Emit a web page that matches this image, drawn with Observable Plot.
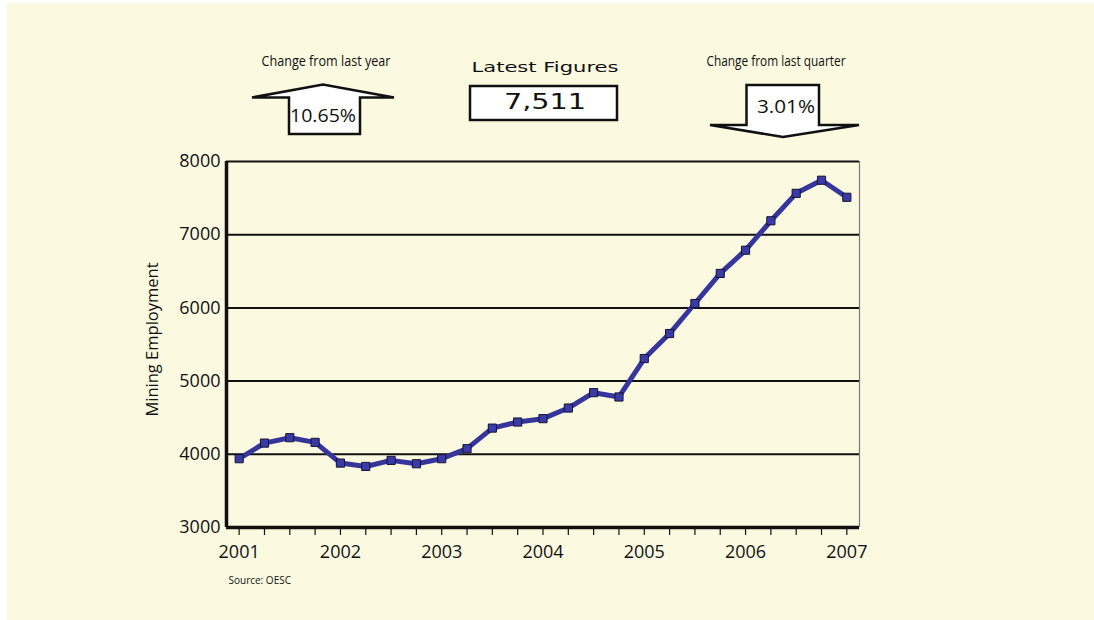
<!DOCTYPE html>
<html><head><meta charset="utf-8">
<script src="https://cdn.jsdelivr.net/npm/d3@7"></script>
<script src="https://cdn.jsdelivr.net/npm/@observablehq/plot@0.6"></script>
<style>
body{margin:0;background:#fff;}
#wrap{position:absolute;left:7px;top:3px;width:1087px;height:617px;background:#FCF9E1;overflow:hidden;}
#wrap svg{position:absolute;left:0;top:0;}
</style></head><body><div id="wrap"></div>
<script>
// Quarterly mining employment, 2001 Q1 – 2007 Q1 (decimal years)
const quarters = [2001.00, 2001.25, 2001.50, 2001.75, 2002.00, 2002.25, 2002.50, 2002.75,
                  2003.00, 2003.25, 2003.50, 2003.75, 2004.00, 2004.25, 2004.50, 2004.75,
                  2005.00, 2005.25, 2005.50, 2005.75, 2006.00, 2006.25, 2006.50, 2006.75, 2007.00];
const employment = [3940, 4153, 4227, 4163, 3880, 3834, 3917, 3871,
                    3940, 4077, 4358, 4441, 4487, 4632, 4842, 4783,
                    5308, 5650, 6060, 6471, 6788, 7190, 7565, 7744, 7511];
const yearTicks = [2001, 2002, 2003, 2004, 2005, 2006, 2007];
const yTicks = [3000, 4000, 5000, 6000, 7000, 8000];
const yLabel = "Mining Employment";
const source = "Source: OESC";
const latestTitle = "Latest Figures";
const latestValue = "7,511";
const yearTitle = "Change from last year";
const yearChange = "10.65%";
const quarterTitle = "Change from last quarter";
const quarterChange = "3.01%";

const data = quarters.map((q, i) => ({q, v: employment[i]}));
const xDomain = [quarters[0] - 0.125, quarters[quarters.length - 1] + 0.125];

const chart = Plot.plot({
  width: 1087, height: 617,
  marginLeft: 219, marginRight: 235, marginTop: 158, marginBottom: 93,
  style: {background: "transparent", fontFamily: "'Open Sans', sans-serif", fontSize: "16px", color: "#111"},
  x: {domain: xDomain, axis: null, label: null},
  y: {domain: [yTicks[0], yTicks[yTicks.length - 1]], axis: null, label: null},
  marks: [
    Plot.ruleY(yTicks.slice(1), {stroke: "#111", strokeWidth: 2}),
    Plot.ruleX([xDomain[1]], {stroke: "#777", strokeWidth: 1.2}),
    Plot.axisX(quarters, {tickSize: 8, tickFormat: () => "", stroke: "#111", strokeWidth: 1.2, label: null}),
    Plot.axisX(yearTicks, {tickSize: 0, tickPadding: 18, tickFormat: d => String(d), fontSize: 18, fill: "#111", label: null}),
    Plot.axisY(yTicks, {tickSize: 0, tickPadding: 6, tickFormat: d => String(d), fontSize: 18, fill: "#111", label: null}),
    Plot.ruleX([xDomain[0]], {stroke: "#111", strokeWidth: 3.5}),
    Plot.ruleY([yTicks[0]], {stroke: "#111", strokeWidth: 3.5}),
    Plot.line(data, {x: "q", y: "v", stroke: "#35359c", strokeWidth: 5}),
    Plot.dot(data, {x: "q", y: "v", symbol: "square", r: 4.6, fill: "#3b3ba8", stroke: "#151530", strokeWidth: 1}),
    Plot.text([yLabel], {frameAnchor: "left", textAnchor: "middle", rotate: -90, dx: -74, dy: -5, fontSize: 16.5, fill: "#111"}),
    Plot.text([source], {frameAnchor: "bottom-left", lineAnchor: "middle", textAnchor: "start", dx: 2, dy: 53,
      fontSize: 10, fill: "#111"})
  ]
});
document.getElementById("wrap").appendChild(chart);

// Header annotations
const svg = d3.select(chart);
const g = svg.append("g");
const sans = "'Open Sans', sans-serif";
const wide = "'DejaVu Sans', sans-serif";

function label(x, y, txt, size, family, len, weight) {
  const t = g.append("text").attr("x", x).attr("y", y).attr("text-anchor", "middle")
    .attr("dominant-baseline", "middle").attr("font-family", family).attr("font-size", size)
    .attr("fill", "#111").text(txt);
  if (weight) t.attr("font-weight", weight);
  if (len) t.attr("textLength", len).attr("lengthAdjust", "spacingAndGlyphs");
  return t;
}

// up arrow (change from last year)
g.append("polygon")
  .attr("points", "245,94.5 316,81.5 387,94.5 353,94.5 353,131 282,131 282,94.5")
  .attr("fill", "#fff").attr("stroke", "#111").attr("stroke-width", 2.5).attr("stroke-linejoin", "miter");
label(319, 59, yearTitle, 15, sans, 129);
label(316, 114, yearChange, 18, sans, 66);

// latest figures box
label(538, 65, latestTitle, 14.5, wide, 147, 500);
g.append("rect").attr("x", 463).attr("y", 83).attr("width", 147).attr("height", 34)
  .attr("fill", "#fff").attr("stroke", "#111").attr("stroke-width", 2.5);
label(538, 100, latestValue, 21, wide, 82);

// down arrow (change from last quarter)
g.append("polygon")
  .attr("points", "739.5,82 812,82 812,122 852,122 776,134 703,122 739.5,122")
  .attr("fill", "#fff").attr("stroke", "#111").attr("stroke-width", 2.5).attr("stroke-linejoin", "miter");
label(769, 59, quarterTitle, 15, sans, 139);
label(779, 105, quarterChange, 18, sans, 58);
</script>
</body></html>
